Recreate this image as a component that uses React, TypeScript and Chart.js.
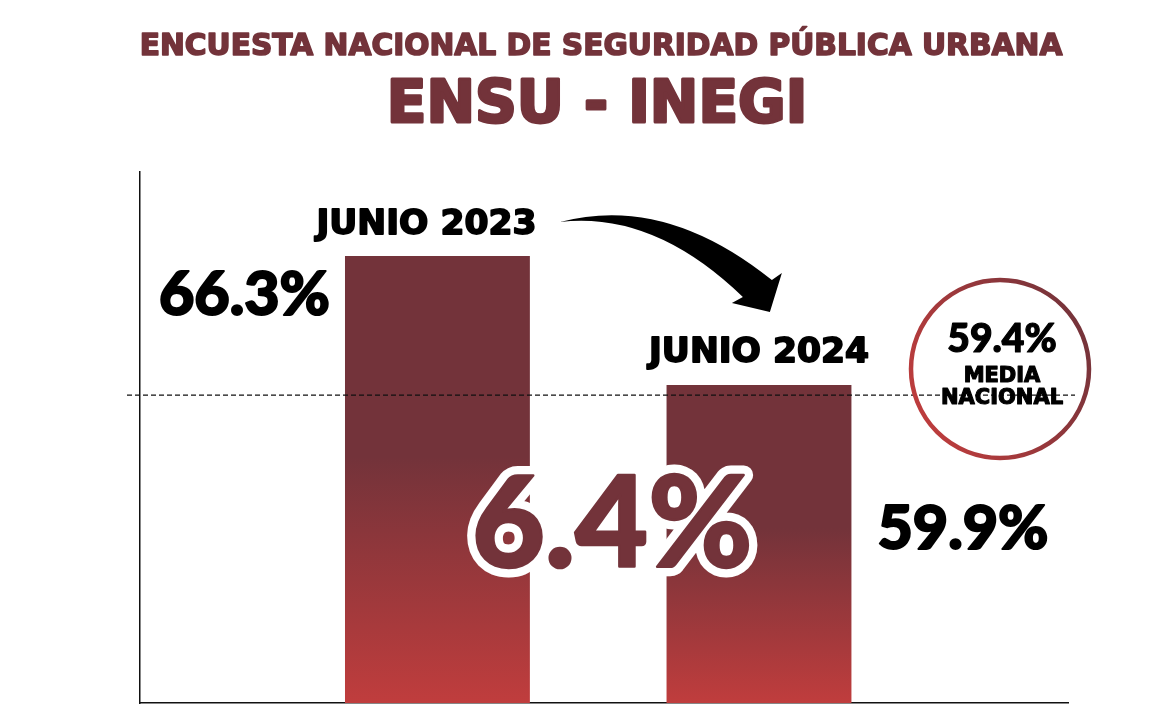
import React, { useEffect, useRef } from "react";
import { Chart, registerables } from "chart.js";

Chart.register(...registerables);

const titleText = "ENCUESTA NACIONAL DE SEGURIDAD PÚBLICA URBANA";
const subtitleText = "ENSU - INEGI";
const categories = ["JUNIO 2023", "JUNIO 2024"];
const xPositions = [1, 2];
const values = [66.3, 59.9];
const valueLabels = ["66.3%", "59.9%"];
const changeLabel = "6.4%";
const mediaNacional = 59.4;
const mediaLabel = "59.4%";
const mediaLines = ["MEDIA", "NACIONAL"];

const MAROON = "#73333a";
const RED = "#c03d3d";
const FONT = "'DejaVu Sans', 'Noto Sans', sans-serif";
const NUMFONT = "Lato, 'DejaVu Sans', sans-serif";

function heavyText(ctx: any, text: string, x: number, y: number, color: string, stroke: number) {
  ctx.fillStyle = color;
  ctx.strokeStyle = color;
  ctx.lineWidth = stroke;
  ctx.lineJoin = "round";
  ctx.fillText(text, x, y);
  if (stroke > 0) ctx.strokeText(text, x, y);
}

const overlayPlugin = {
  id: "overlay",
  afterDraw(chart: any) {
    const ctx = chart.ctx;
    const area = chart.chartArea;
    const meta = chart.getDatasetMeta(0);
    const b1 = meta.data[0];
    const b2 = meta.data[1];
    const yScale = chart.scales.y;
    ctx.save();
    ctx.textBaseline = "alphabetic";

    // titles
    ctx.textAlign = "center";
    ctx.font = `bold 29.7px ${FONT}`;
    heavyText(ctx, titleText, 601, 55, MAROON, 1.6);
    ctx.font = `bold 58px ${FONT}`;
    heavyText(ctx, subtitleText, 597, 122, MAROON, 3);

    // media nacional dashed line
    const yLine = yScale.getPixelForValue(mediaNacional);
    ctx.beginPath();
    ctx.setLineDash([5, 3]);
    ctx.lineWidth = 1.3;
    ctx.strokeStyle = "#111";
    ctx.moveTo(area.left - 13, yLine);
    ctx.lineTo(area.right + 7, yLine);
    ctx.stroke();
    ctx.setLineDash([]);

    // category labels
    ctx.textAlign = "center";
    ctx.font = `bold 34.5px ${FONT}`;
    heavyText(ctx, categories[0], b1.x - 11, b1.y - 22, "#000", 1.8);
    heavyText(ctx, categories[1], b2.x, b2.y - 23, "#000", 1.8);

    // value labels
    ctx.font = `900 61px ${NUMFONT}`;
    ctx.textAlign = "right";
    heavyText(ctx, valueLabels[0], b1.x - b1.width / 2 - 15, b1.y + 59, "#000", 2);
    ctx.textAlign = "left";
    heavyText(ctx, valueLabels[1], b2.x + b2.width / 2 + 26, b2.y + 164, "#000", 2);

    // arrow
    const ox = b1.x + b1.width / 2;
    const oy = b1.y;
    ctx.fillStyle = "#000";
    ctx.beginPath();
    ctx.moveTo(ox + 30, oy - 34);
    ctx.quadraticCurveTo(ox + 135, oy - 62, ox + 242, oy + 24);
    ctx.lineTo(ox + 252, oy + 17);
    ctx.lineTo(ox + 240, oy + 56);
    ctx.lineTo(ox + 202, oy + 47);
    ctx.lineTo(ox + 213, oy + 41);
    ctx.quadraticCurveTo(ox + 124, oy - 45, ox + 30, oy - 34);
    ctx.closePath();
    ctx.fill();

    // change label
    const cx = (b1.x + b2.x) / 2 + 14;
    const cy = area.top + 395;
    ctx.font = `900 126px ${NUMFONT}`;
    ctx.textAlign = "center";
    ctx.lineJoin = "round";
    ctx.lineWidth = 19;
    ctx.strokeStyle = "#fff";
    ctx.strokeText(changeLabel, cx, cy);
    heavyText(ctx, changeLabel, cx, cy, MAROON, 2.5);

    // circle
    const ccx = area.right - 68;
    const ccy = area.top + 197;
    const r = 89;
    const g = ctx.createLinearGradient(ccx - r, ccy + r * 0.5, ccx + r, ccy - r * 0.5);
    g.addColorStop(0, RED);
    g.addColorStop(1, MAROON);
    ctx.beginPath();
    ctx.arc(ccx, ccy, r, 0, Math.PI * 2);
    ctx.lineWidth = 4.5;
    ctx.strokeStyle = g;
    ctx.stroke();

    ctx.textAlign = "center";
    ctx.font = `900 39px ${NUMFONT}`;
    heavyText(ctx, mediaLabel, ccx + 2, ccy - 17, "#000", 1.2);
    ctx.font = `bold 21px ${FONT}`;
    heavyText(ctx, mediaLines[0], ccx + 2, ccy + 13, "#000", 1.2);
    heavyText(ctx, mediaLines[1], ccx + 2, ccy + 35, "#000", 1.2);

    ctx.restore();
  },
};

export default function App() {
  const ref = useRef<HTMLCanvasElement | null>(null);

  useEffect(() => {
    document.body.style.margin = "0";
    const canvas = ref.current;
    if (!canvas) return;
    const chart = new Chart(canvas, {
      type: "bar",
      data: {
        datasets: [
          {
            data: xPositions.map((x, i) => ({ x, y: values[i] })),
            backgroundColor: (context: any) => {
              const c = context.chart;
              const area = c.chartArea;
              if (!area || context.dataIndex === undefined) return MAROON;
              const v = values[context.dataIndex];
              const top = c.scales.y.getPixelForValue(v);
              const bottom = area.bottom;
              const grad = c.ctx.createLinearGradient(0, top, 0, bottom);
              grad.addColorStop(0, MAROON);
              grad.addColorStop(0.45, MAROON);
              grad.addColorStop(1, RED);
              return grad;
            },
            borderWidth: 0,
            categoryPercentage: 1,
            barPercentage: 0.575,
          },
        ],
      },
      options: {
        animation: false,
        responsive: true,
        maintainAspectRatio: false,
        layout: { padding: { left: 132, right: 102, top: 172, bottom: 4 } },
        plugins: {
          legend: { display: false },
          tooltip: { enabled: false },
          title: { display: false },
        },
        scales: {
          x: {
            type: "linear",
            offset: false,
            min: 0.075,
            max: 2.961,
            afterBuildTicks: (scale: any) => {
              scale.ticks = xPositions.map((v) => ({ value: v }));
            },
            ticks: { display: false },
            grid: { display: false, offset: false },
            border: { display: true, color: "#111", width: 1.5 },
          },
          y: {
            min: 44.13,
            max: 70.47,
            ticks: { display: false },
            grid: { display: false },
            border: { display: true, color: "#111", width: 1.5 },
          },
        },
      },
      plugins: [overlayPlugin],
    } as any);
    return () => chart.destroy();
  }, []);

  return (
    <div style={{ position: "relative", width: 1170, height: 715 }}>
      <canvas ref={ref} />
    </div>
  );
}
